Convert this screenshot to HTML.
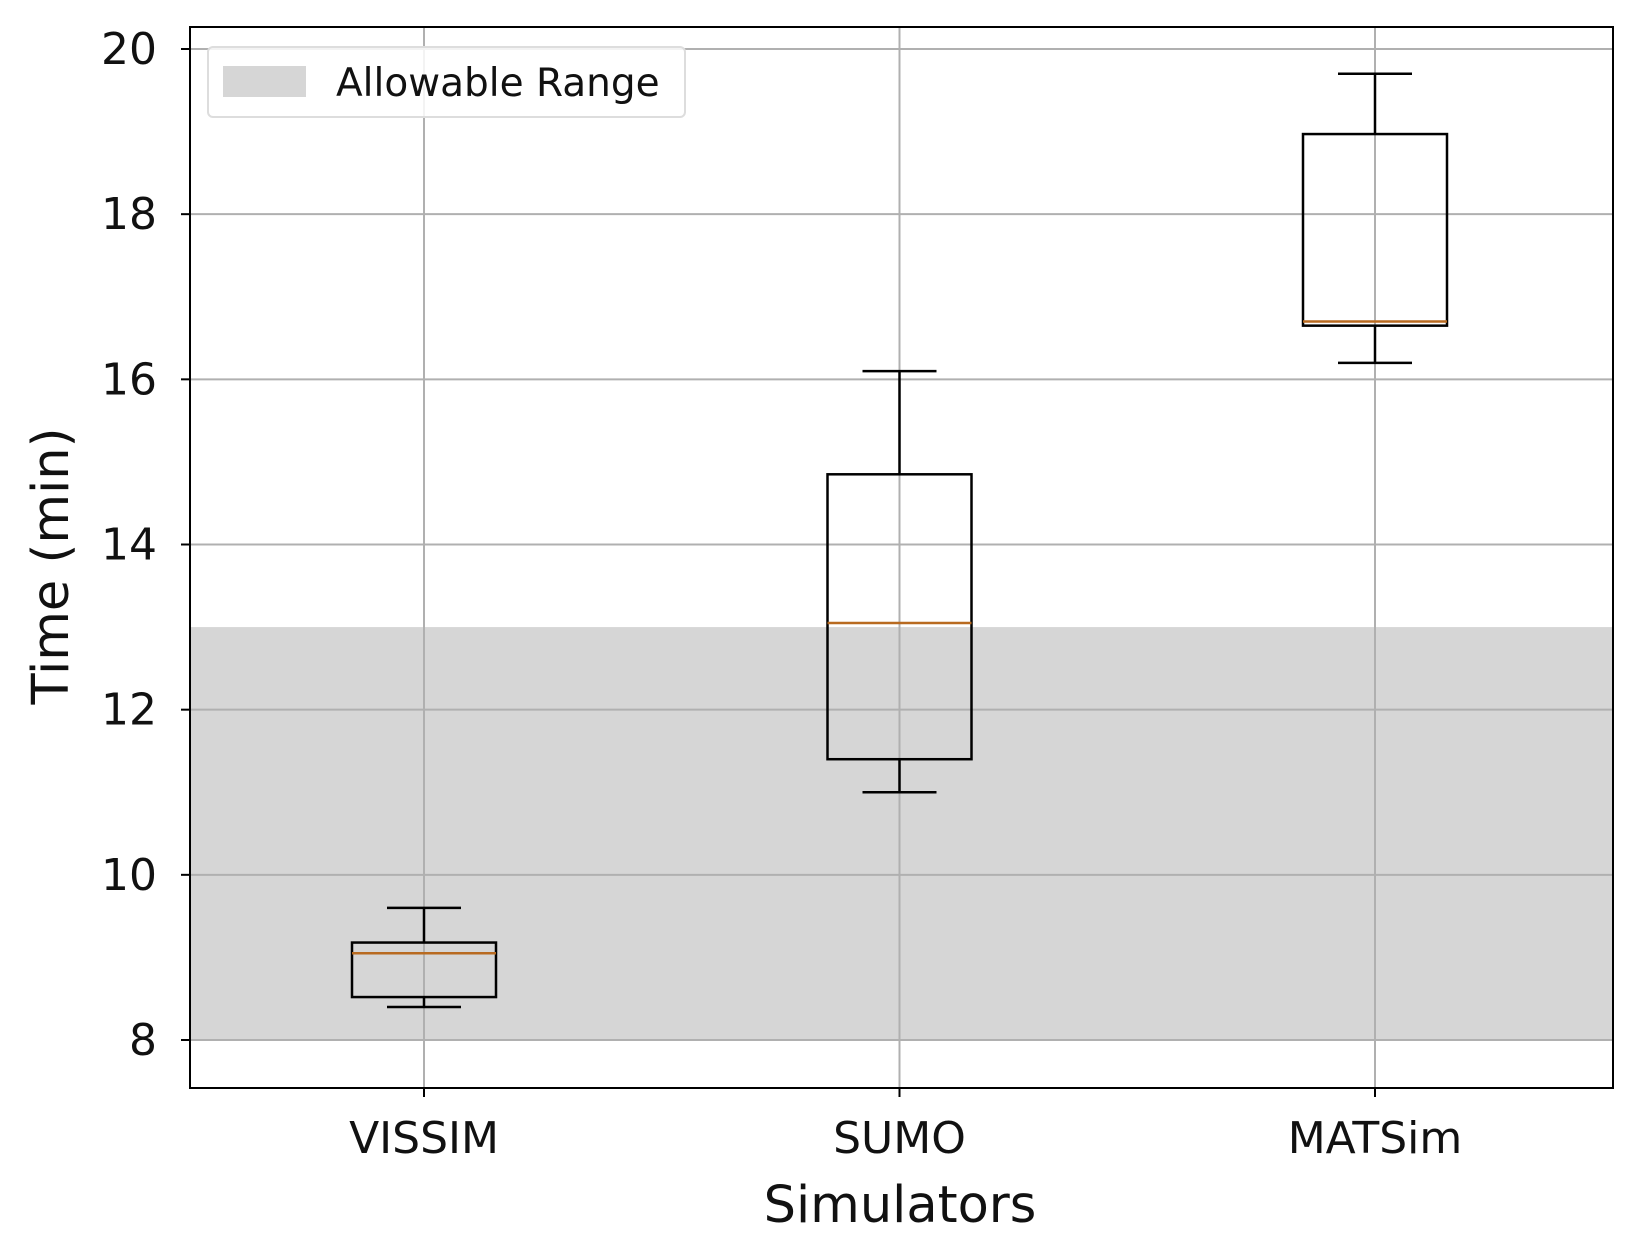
<!DOCTYPE html>
<html><head><meta charset="utf-8"><style>
html,body{margin:0;padding:0;background:#fff;}
svg{display:block;font-family:"DejaVu Sans","Liberation Sans",sans-serif;}
</style></head><body>
<svg id="chart" width="1636" height="1246" viewBox="0 0 1636 1246"></svg>
<script>
const categories = ["VISSIM","SUMO","MATSim"];
const whiskerLow = [8.4, 11.0, 16.2];
const q1 = [8.52, 11.4, 16.65];
const median = [9.05, 13.05, 16.7];
const q3 = [9.18, 14.85, 18.97];
const whiskerHigh = [9.6, 16.1, 19.7];
const yTicks = [8,10,12,14,16,18,20];
const rangeLow = 8, rangeHigh = 13;

const NS="http://www.w3.org/2000/svg";
const svg=document.getElementById('chart');
const L=190,R=1613,T=27,B=1088;
const y=v=>1040-(v-8)*(1040-49)/12;
const x=i=>424+i*(1375-424)/2;
function el(tag,attrs,parent){const e=document.createElementNS(NS,tag);for(const k in attrs)e.setAttribute(k,attrs[k]);(parent||svg).appendChild(e);return e;}

let band=el('rect',{x:L,y:y(rangeHigh),width:R-L,height:y(rangeLow)-y(rangeHigh),fill:'#d6d6d6'});



yTicks.forEach(t=>{
  let g=el('line',{x1:L,x2:R,y1:y(t),y2:y(t),stroke:'#b0b0b0','stroke-width':2});
  
  
  el('line',{x1:L-9,x2:L,y1:y(t),y2:y(t),stroke:'#000','stroke-width':2});
  let tx=el('text',{x:L-33,y:y(t)+15,'text-anchor':'end','font-size':44,fill:'#111'});
  tx.textContent=t;
  
  
});
categories.forEach((c,i)=>{
  let g=el('line',{x1:x(i),x2:x(i),y1:T,y2:B,stroke:'#b0b0b0','stroke-width':2});
  
  
  el('line',{x1:x(i),x2:x(i),y1:B,y2:B+9,stroke:'#000','stroke-width':2});
  let tx=el('text',{x:x(i),y:1153,'text-anchor':'middle','font-size':44,fill:'#111'});
  tx.textContent=c;
  
  
});

categories.forEach((c,i)=>{
  const g=el('g',{});
  
  
  const cx=x(i),hw=72,cw=37,s={stroke:'#000','stroke-width':2.5,fill:'none'};
  el('line',Object.assign({x1:cx,x2:cx,y1:y(whiskerHigh[i]),y2:y(q3[i])},s),g);
  el('line',Object.assign({x1:cx,x2:cx,y1:y(q1[i]),y2:y(whiskerLow[i])},s),g);
  el('line',Object.assign({x1:cx-cw,x2:cx+cw,y1:y(whiskerHigh[i]),y2:y(whiskerHigh[i])},s),g);
  el('line',Object.assign({x1:cx-cw,x2:cx+cw,y1:y(whiskerLow[i]),y2:y(whiskerLow[i])},s),g);
  el('rect',Object.assign({x:cx-hw,y:y(q3[i]),width:2*hw,height:y(q1[i])-y(q3[i])},s),g);
  el('line',{x1:cx-hw,x2:cx+hw,y1:y(median[i]),y2:y(median[i]),stroke:'#b86a20','stroke-width':2.5},g);
});

el('rect',{x:L,y:T,width:R-L,height:B-T,fill:'none',stroke:'#000','stroke-width':2});

const lg=el('g',{});


el('rect',{x:208,y:47,width:477,height:70,rx:5,fill:'#fff','fill-opacity':0.85,stroke:'#ddd','stroke-width':2},lg);
el('rect',{x:223,y:66,width:83,height:31,fill:'#d6d6d6'},lg);
let lt=el('text',{x:336,y:96,'font-size':39,fill:'#111'},lg);
lt.textContent='Allowable Range';

let xl=el('text',{x:900,y:1222,'text-anchor':'middle','font-size':51,fill:'#111'});
xl.textContent='Simulators';


let yl=el('text',{x:0,y:0,'text-anchor':'middle','font-size':51,fill:'#111',transform:'translate(68,566) rotate(-90)'});
yl.textContent='Time (min)';


</script>
</body></html>
